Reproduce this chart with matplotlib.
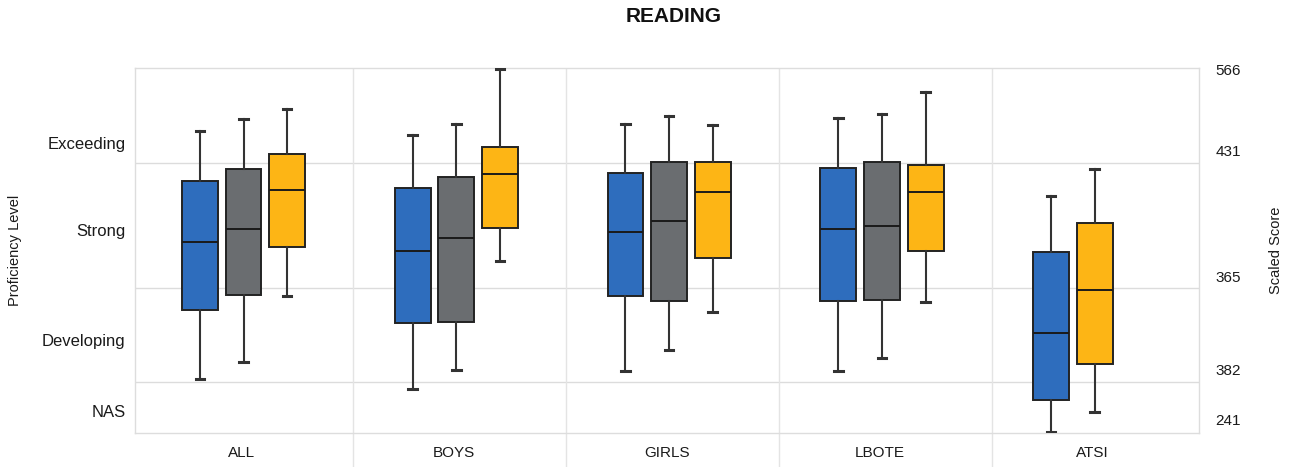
import matplotlib

matplotlib.use("Agg")
import matplotlib.pyplot as plt
import numpy as np

# values on a 0-100 position scale (0 = bottom of plot, 100 = top)
groups = ["ALL", "BOYS", "GIRLS", "LBOTE", "ATSI"]

# each entry: (whisker low, q1, median, q3, whisker high)
blue = [
    (14.8, 33.7, 52.3, 69.1, 82.8),
    (12.1, 30.1, 49.9, 67.1, 81.6),
    (17.0, 37.5, 55.1, 71.2, 84.7),
    (17.0, 36.2, 55.9, 72.6, 86.3),
    (0.3, 9.0, 27.4, 49.6, 64.9),
]
gray = [
    (19.5, 37.8, 55.9, 72.3, 86.0),
    (17.3, 30.4, 53.4, 70.1, 84.7),
    (22.7, 36.2, 58.1, 74.2, 86.8),
    (20.5, 36.4, 56.7, 74.2, 87.4),
    None,
]
yellow = [
    (37.5, 51.0, 66.6, 76.4, 88.8),
    (47.1, 56.2, 71.0, 78.4, 99.7),
    (33.2, 47.9, 66.0, 74.2, 84.4),
    (35.9, 49.9, 66.0, 73.4, 93.4),
    (5.8, 18.9, 39.2, 57.5, 72.3),
]

band_lines = [74.0, 39.7, 14.0]
level_labels = ["Exceeding", "Strong", "Developing", "NAS"]
level_pos = [79.5, 55.6, 25.5, 6.0]
score_labels = ["566", "431", "365", "382", "241"]
score_pos = [99.6, 77.5, 43.0, 17.3, 3.6]

colors = {"blue": "#2e6dbd", "gray": "#6a6d70", "yellow": "#fdb515"}

plt.rcParams["font.family"] = ["Liberation Sans", "DejaVu Sans"]

fig = plt.figure(figsize=(12.93, 4.67), dpi=100)
ax = fig.add_axes([0.1044, 0.0728, 0.8229, 0.7816])


def stats(t):
    lo, q1, med, q3, hi = t
    return {"whislo": lo, "q1": q1, "med": med, "q3": q3, "whishi": hi, "fliers": []}


width = 0.169
for series, key, off in [(blue, "blue", -0.195), (gray, "gray", 0.01), (yellow, "yellow", 0.215)]:
    for i, t in enumerate(series):
        if t is None:
            continue
        pos = i + off
        # ATSI has no gray box; its boxes sit in the left and middle slots
        if groups[i] == "ATSI" and key == "yellow":
            pos = i + 0.01
        ax.bxp([stats(t)], positions=[pos], widths=width, patch_artist=True,
               showfliers=False, capwidths=[0.04],
               boxprops=dict(facecolor=colors[key], edgecolor="#222222", linewidth=1.4),
               medianprops=dict(color="#1a1a1a", linewidth=1.4),
               whiskerprops=dict(color="#333333", linewidth=1.5),
               capprops=dict(color="#333333", linewidth=2.2),
               manage_ticks=False, zorder=3)

for y in band_lines:
    ax.axhline(y, color="#dcdcdc", linewidth=1.0, zorder=1)
seps = np.arange(4) + 0.525
ax.vlines(seps, -10, 100, colors="#e4e4e4", linewidth=1.0, clip_on=False, zorder=1)

ax.set_xlim(-0.5, 4.5)
ax.set_ylim(0, 100)
for s in ax.spines.values():
    s.set_color("#dddddd")
    s.set_linewidth(1.0)

ax.set_xticks(range(len(groups)))
ax.set_xticklabels(groups, fontsize=11, color="#1a1a1a")
ax.set_yticks(level_pos)
ax.set_yticklabels(level_labels, fontsize=12, color="#1a1a1a")
ax.tick_params(length=0, pad=7)
ax.tick_params(axis="x", pad=9)
ax.set_ylabel("Proficiency Level", fontsize=10.5, color="#1a1a1a", labelpad=14)

ax2 = ax.twinx()
ax2.set_ylim(0, 100)
ax2.set_yticks(score_pos)
ax2.set_yticklabels(score_labels, fontsize=11, color="#1a1a1a")
ax2.tick_params(length=0, pad=12)
for s in ax2.spines.values():
    s.set_visible(False)
ax2.set_ylabel("Scaled Score", fontsize=10.5, color="#1a1a1a", labelpad=20)

fig.suptitle("READING", fontsize=15, fontweight="bold", color="#111111", x=0.521, y=0.985)

fig.savefig("out.png", dpi=100)
